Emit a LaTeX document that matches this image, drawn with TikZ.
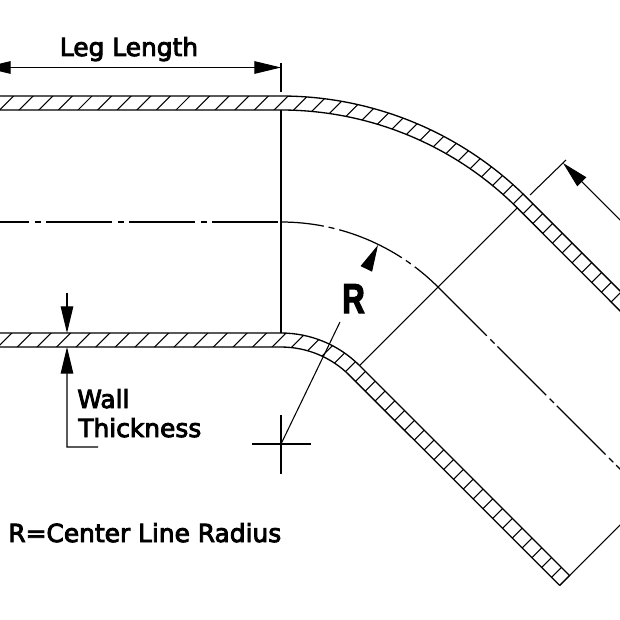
\documentclass[tikz,border=0pt]{standalone}
\usepackage{fontspec}
\setmainfont{DejaVu Sans}
\newfontfamily\labelfont[FakeBold=3.5]{DejaVu Sans}
\newfontfamily\radiusfont[FakeStretch=0.74, FakeBold=3]{Liberation Sans Bold}
\usetikzlibrary{arrows.meta}

\tikzset{
  wall/.style={line width=0.75pt},
  thin line/.style={line width=0.6pt},
  dimtip/.style={thin line, -{Triangle[length=5.3mm,width=2.5mm]}},
  center line/.style={line width=0.7pt},
  label/.style={anchor=base west, inner sep=0pt, font=\labelfont\fontsize{14.1}{16}\selectfont}
}

\begin{document}
\begin{tikzpicture}[x=1pt, y=1pt, xscale=0.5669, yscale=-0.5669]
\useasboundingbox (0,0) rectangle (620,620);
\clip (0,0) rectangle (620,620);

% coordinates
\coordinate (C) at (281,444);
\coordinate (TL) at (-10,96);
\coordinate (TR) at (281,96);
\coordinate (IL) at (-10,110);
\coordinate (IR) at (281,110);
\coordinate (BL) at (-10,333);
\coordinate (BR) at (281,333);
\coordinate (OL) at (-10,347);
\coordinate (OR) at (281,347);
\coordinate (E1) at (569.5,575.5);
\coordinate (E2) at (559.6,585.4);

% hatching
\begin{scope}
\clip (TL) -- (TR) arc[start angle=-90, end angle=-45, radius=348] -- (700,371)
  -- (700,391) -- (517.2,207.8) arc[start angle=-45, end angle=-90, radius=334] -- (IL) -- cycle
  (BL) -- (BR) arc[start angle=-90, end angle=-45, radius=111] -- (E1) -- (E2)
  -- (349.6,375.4) arc[start angle=-45, end angle=-90, radius=97] -- (OL) -- cycle;
\foreach \k in {-19,...,39} {
  \pgfmathsetmacro{\s}{384+19.6*\k}
  \draw[thin line] (\s-90,90) -- (\s-600,600);
}
\end{scope}

% pipe walls
\draw[wall] (TL) -- (TR) arc[start angle=-90, end angle=-45, radius=348] -- (700,371);
\draw[wall] (IL) -- (IR) arc[start angle=-90, end angle=-45, radius=334] -- (700,391);
\draw[wall] (BL) -- (BR) arc[start angle=-90, end angle=-45, radius=111] -- (E1) -- (E2);
\draw[wall] (OL) -- (OR) arc[start angle=-90, end angle=-45, radius=97] -- (E2);

% center line
\draw[center line, dash pattern=on 37.4pt off 2.8pt on 3.4pt off 3.4pt] (278,222) -- (-10,222);
\draw[center line, dash pattern=on 24.4pt off 2.8pt on 3.4pt off 2.8pt on 39pt off 2.8pt on 3.4pt off 2.8pt on 30pt]
  (281,222) arc[start angle=-90, end angle=-45, radius=222];
\draw[center line, dash pattern=on 39.1pt off 2.8pt on 3.4pt off 2.3pt] (438,287) -- (650,499);

% section lines
\draw[thin line] (281,63) -- (281,92);
\draw[thin line] (IR) -- (BR);
\draw[thin line] (359.5,365.5) -- (517.2,207.8);
\draw[thin line] (530,195) -- (566,160);
\draw[thin line] (E1) -- (640,505);

% leg length dimensions
\draw[dimtip] (100,67.5) -- (281,67.5);
\draw[dimtip] (100,67.5) -- (-16,67.5);
\draw[dimtip] (640,240) -- (563,163);
\node[label, anchor=base] (leg) at (129,56) {Leg Length};

% wall thickness
\draw[dimtip] (67,293) -- (67,333);
\coordinate (W1) at (98,447);
\coordinate (W2) at (67,447);
\draw[dimtip] (W1) -- (W2) -- (67,347);
\node[label] (wall) at (77,408) {Wall};
\node[label] (thick) at (78,437) {Thickness};

% radius
\draw[thin line] (252,444) -- (311,444);
\draw[thin line] (281,415) -- (281,474);
\draw[thin line] (C) -- (340,322);
\draw[dimtip] (366.5,268.5) -- (378,245);
\node[anchor=base, inner sep=0pt, font=\radiusfont\fontsize{23.7}{26}\selectfont] (rad) at (353.5,313) {R};

\node[label] (note) at (8,542) {R=Center Line Radius};

\end{tikzpicture}
\end{document}
